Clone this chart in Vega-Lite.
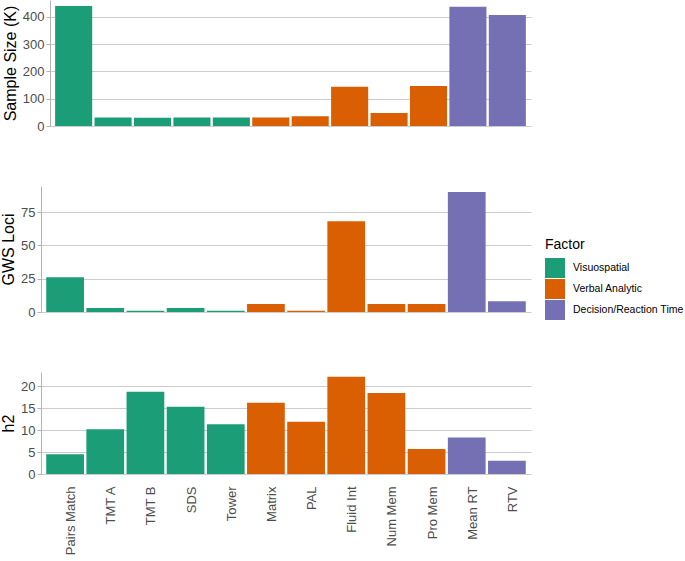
{
  "$schema": "https://vega.github.io/schema/vega-lite/v6.json",
  "padding": {"left": 0, "top": 0, "right": 0, "bottom": 0},
  "data": {
    "values": [
      {"task": "Pairs Match", "factor": "Visuospatial", "sample": 440, "loci": 26, "h2": 4.5},
      {"task": "TMT A", "factor": "Visuospatial", "sample": 31, "loci": 3, "h2": 10.2},
      {"task": "TMT B", "factor": "Visuospatial", "sample": 30, "loci": 1, "h2": 18.7},
      {"task": "SDS", "factor": "Visuospatial", "sample": 31, "loci": 3, "h2": 15.3},
      {"task": "Tower", "factor": "Visuospatial", "sample": 31, "loci": 1, "h2": 11.3},
      {"task": "Matrix", "factor": "Verbal Analytic", "sample": 31, "loci": 6, "h2": 16.2},
      {"task": "PAL", "factor": "Verbal Analytic", "sample": 36, "loci": 1, "h2": 11.9},
      {"task": "Fluid Int", "factor": "Verbal Analytic", "sample": 144, "loci": 68, "h2": 22.1},
      {"task": "Num Mem", "factor": "Verbal Analytic", "sample": 48, "loci": 6, "h2": 18.4},
      {"task": "Pro Mem", "factor": "Verbal Analytic", "sample": 147, "loci": 6, "h2": 5.7},
      {"task": "Mean RT", "factor": "Decision/Reaction Time", "sample": 437, "loci": 90, "h2": 8.3},
      {"task": "RTV", "factor": "Decision/Reaction Time", "sample": 407, "loci": 8, "h2": 3.0}
    ]
  },
  "spacing": 53,
  "align": "none",
  "vconcat": [
    {
      "width": 490,
      "height": 126,
      "mark": {"type": "bar"},
      "encoding": {
        "x": {"field": "task", "type": "nominal", "sort": null, "axis": null,
              "scale": {"range": [9, 490], "paddingInner": 0.06, "paddingOuter": 0.13}},
        "y": {"field": "sample", "type": "quantitative", "title": "Sample Size (K)",
              "scale": {"domain": [0, 462], "nice": false},
              "axis": {"values": [0, 100, 200, 300, 400], "offset": -9}},
        "color": {"field": "factor", "type": "nominal", "title": "Factor",
                  "scale": {"domain": ["Visuospatial", "Verbal Analytic", "Decision/Reaction Time"],
                            "range": ["#1b9e77", "#d95f02", "#7570b3"]}}
      }
    },
    {
      "width": 490,
      "height": 126,
      "mark": {"type": "bar"},
      "encoding": {
        "x": {"field": "task", "type": "nominal", "sort": null, "axis": null,
              "scale": {"paddingInner": 0.06, "paddingOuter": 0.13}},
        "y": {"field": "loci", "type": "quantitative", "title": "GWS Loci",
              "scale": {"domain": [0, 94.5], "nice": false},
              "axis": {"values": [0, 25, 50, 75]}},
        "color": {"field": "factor", "type": "nominal", "title": "Factor",
                  "scale": {"domain": ["Visuospatial", "Verbal Analytic", "Decision/Reaction Time"],
                            "range": ["#1b9e77", "#d95f02", "#7570b3"]}}
      }
    },
    {
      "width": 490,
      "height": 102,
      "mark": {"type": "bar"},
      "encoding": {
        "x": {"field": "task", "type": "nominal", "sort": null, "title": null,
              "scale": {"paddingInner": 0.06, "paddingOuter": 0.13},
              "axis": {"labelAngle": -90, "labelAlign": "right", "labelBaseline": "top",
                       "ticks": false, "domain": false, "labelPadding": 12}},
        "y": {"field": "h2", "type": "quantitative", "title": "h2",
              "scale": {"domain": [0, 23.2], "nice": false},
              "axis": {"values": [0, 5, 10, 15, 20]}},
        "color": {"field": "factor", "type": "nominal", "title": "Factor",
                  "scale": {"domain": ["Visuospatial", "Verbal Analytic", "Decision/Reaction Time"],
                            "range": ["#1b9e77", "#d95f02", "#7570b3"]},
                  "legend": {"orient": "none", "legendX": 504, "legendY": 238}}
      }
    }
  ],
  "config": {
    "font": "Liberation Sans",
    "view": {"stroke": null},
    "axis": {
      "labelFont": "Liberation Sans",
      "titleFont": "Liberation Sans",
      "labelFontSize": 13,
      "labelColor": "#4d4d4d",
      "titleFontSize": 16,
      "titleFontWeight": "normal",
      "titleColor": "#000000",
      "gridColor": "#cccccc",
      "gridWidth": 1,
      "domainColor": "#b3b3b3",
      "tickColor": "#b3b3b3",
      "tickSize": 4
    },
    "axisY": {"titlePadding": 4, "labelPadding": 2},
    "legend": {
      "titleFont": "Liberation Sans",
      "labelFont": "Liberation Sans",
      "titleFontSize": 14,
      "titleFontWeight": "normal",
      "titleColor": "#000000",
      "labelFontSize": 10.5,
      "labelColor": "#000000",
      "symbolType": "square",
      "symbolSize": 400,
      "symbolStrokeWidth": 0,
      "symbolOpacity": 1,
      "rowPadding": 1,
      "labelOffset": 8,
      "titlePadding": 6
    }
  }
}
